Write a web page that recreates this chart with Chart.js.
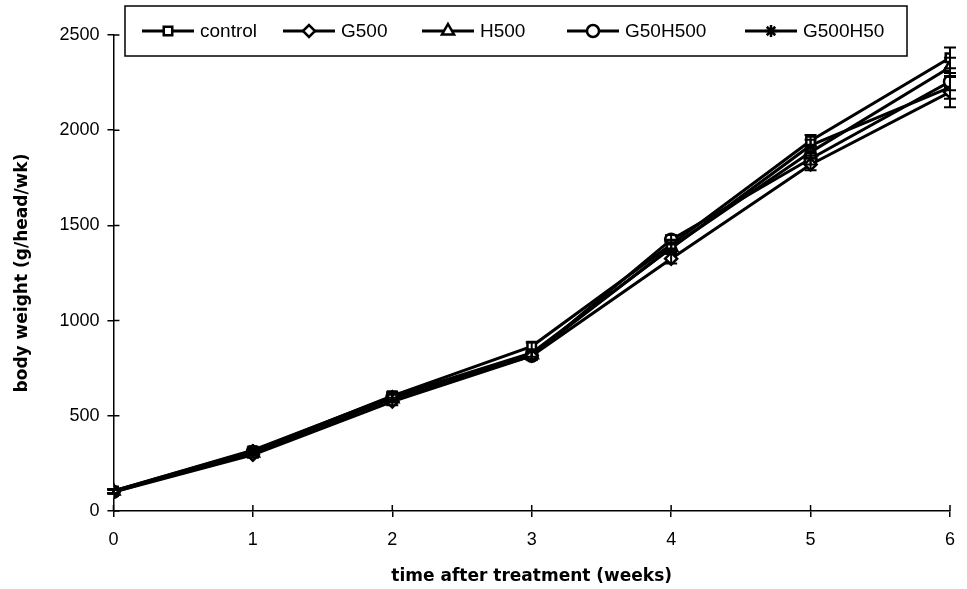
<!DOCTYPE html>
<html>
<head>
<meta charset="utf-8">
<script src="https://cdn.jsdelivr.net/npm/chart.js@4"></script>
<style>
  html, body { margin: 0; padding: 0; background: #fff; }
  #wrap { width: 967px; height: 589px; position: relative; }
</style>
</head>
<body>
<div id="wrap"><canvas id="growth-canvas"></canvas></div>
<script>
// weeks after treatment
const weeks = [0, 1, 2, 3, 4, 5, 6];
const seriesNames = ['control', 'G500', 'H500', 'G50H500', 'G500H50'];
const pointStyles = ['rect', 'rectRot', 'triangle', 'circle', 'star'];

// body weight (g/head/wk)
const control = [105, 315, 605, 865, 1400, 1945, 2380];
const g500 = [100, 295, 575, 815, 1325, 1820, 2200];
const h500 = [105, 305, 590, 820, 1385, 1885, 2330];
const g50h500 = [100, 310, 595, 815, 1425, 1850, 2255];
const g500h50 = [105, 320, 600, 830, 1380, 1920, 2225];

// standard errors
const controlErr = [10, 15, 20, 20, 25, 30, 55];
const g500Err = [10, 15, 20, 20, 25, 30, 80];
const h500Err = [10, 15, 20, 20, 25, 30, 50];
const g50h500Err = [10, 15, 20, 20, 25, 30, 45];
const g500h50Err = [10, 15, 20, 20, 25, 30, 60];

const yTicks = [0, 500, 1000, 1500, 2000, 2500];

const values = [control, g500, h500, g50h500, g500h50];
const errors = [controlErr, g500Err, h500Err, g50h500Err, g500h50Err];

const FONT = '"Liberation Sans", Arial, sans-serif';
const TITLE_FONT = '"DejaVu Sans", "Liberation Sans", sans-serif';

const datasets = seriesNames.map((name, i) => ({
  label: name,
  data: weeks.map((w, j) => ({ x: w, y: values[i][j] })),
  errors: errors[i],
  borderColor: '#000',
  borderWidth: 3,
  pointStyle: pointStyles[i],
  pointRadius: pointStyles[i] === 'triangle' ? 7 : 6,
  pointBorderWidth: 2.5,
  pointBackgroundColor: pointStyles[i] === 'star' ? '#000' : '#fff',
  pointBorderColor: '#000',
  fill: false,
  tension: 0,
}));

// vertical error bars with caps, plus tick halves inside the plot
const errorBars = {
  id: 'errorBars',
  afterDatasetsDraw(chart) {
    const { ctx, scales: { x, y } } = chart;
    ctx.save();
    ctx.strokeStyle = '#000';
    ctx.lineWidth = 1.5;
    ctx.beginPath();
    weeks.forEach((w) => {
      const px = x.getPixelForValue(w);
      ctx.moveTo(px, y.bottom); ctx.lineTo(px, y.bottom - 6);
    });
    yTicks.forEach((v) => {
      const py = y.getPixelForValue(v);
      ctx.moveTo(x.left, py); ctx.lineTo(x.left + 6, py);
    });
    ctx.stroke();

    ctx.lineWidth = 2;
    chart.data.datasets.forEach((ds) => {
      ds.data.forEach((p, j) => {
        const e = ds.errors[j];
        const px = x.getPixelForValue(p.x);
        const top = y.getPixelForValue(p.y + e);
        const bot = y.getPixelForValue(p.y - e);
        ctx.beginPath();
        ctx.moveTo(px, top); ctx.lineTo(px, bot);
        ctx.moveTo(px - 6, top); ctx.lineTo(px + 6, top);
        ctx.moveTo(px - 6, bot); ctx.lineTo(px + 6, bot);
        ctx.stroke();
      });
    });
    ctx.restore();
  },
};

// boxed legend with line through marker, drawn over the plot
const boxLegend = {
  id: 'boxLegend',
  afterDraw(chart) {
    const { ctx } = chart;
    const box = { left: 125, top: 6, right: 907, bottom: 56 };
    const itemX = [142, 283, 422, 567, 745];
    const midY = (box.top + box.bottom) / 2;
    ctx.save();
    ctx.fillStyle = '#fff';
    ctx.fillRect(box.left, box.top, box.right - box.left, box.bottom - box.top);
    ctx.strokeStyle = '#000';
    ctx.lineWidth = 1.5;
    ctx.strokeRect(box.left, box.top, box.right - box.left, box.bottom - box.top);
    chart.data.datasets.forEach((ds, i) => {
      const x0 = itemX[i];
      ctx.strokeStyle = '#000';
      ctx.lineWidth = 3;
      ctx.beginPath();
      ctx.moveTo(x0, midY); ctx.lineTo(x0 + 52, midY);
      ctx.stroke();
      ctx.fillStyle = ds.pointBackgroundColor;
      ctx.strokeStyle = '#000';
      ctx.lineWidth = ds.pointBorderWidth;
      Chart.helpers.drawPoint(ctx, {
        pointStyle: ds.pointStyle,
        radius: ds.pointRadius,
        borderWidth: ds.pointBorderWidth,
        rotation: 0,
      }, x0 + 26, midY);
      ctx.fillStyle = '#000';
      ctx.font = '19px ' + FONT;
      ctx.textBaseline = 'middle';
      ctx.fillText(ds.label, x0 + 58, midY + 1);
    });
    ctx.restore();
  },
};

new Chart(document.getElementById('growth-canvas').getContext('2d'), {
  type: 'line',
  data: { datasets },
  plugins: [errorBars, boxLegend],
  options: {
    responsive: true,
    maintainAspectRatio: false,
    animation: false,
    layout: { padding: { top: 35, right: 13, left: 12, bottom: 2 } },
    plugins: {
      legend: { display: false },
      tooltip: { enabled: false },
    },
    scales: {
      x: {
        type: 'linear',
        min: 0,
        max: 6,
        afterBuildTicks: (scale) => { scale.ticks = weeks.map((v) => ({ value: v })); },
        grid: { drawOnChartArea: false, color: '#000', tickLength: 6, lineWidth: 1.5 },
        border: { color: '#000', width: 1.5 },
        ticks: { color: '#000', font: { family: FONT, size: 18 }, padding: 12, callback: (v) => String(v) },
        title: {
          display: true,
          text: 'time after treatment (weeks)',
          color: '#000',
          font: { family: TITLE_FONT, size: 17, weight: 'bold' },
          padding: { top: 4, bottom: 0 },
        },
      },
      y: {
        min: 0,
        max: 2500,
        afterBuildTicks: (scale) => { scale.ticks = yTicks.map((v) => ({ value: v })); },
        grid: { drawOnChartArea: false, color: '#000', tickLength: 6, lineWidth: 1.5 },
        border: { color: '#000', width: 1.5 },
        ticks: { color: '#000', font: { family: FONT, size: 18 }, padding: 8, callback: (v) => String(v) },
        title: {
          display: true,
          text: 'body weight (g/head/wk)',
          color: '#000',
          font: { family: TITLE_FONT, size: 17, weight: 'bold' },
          padding: { top: 0, bottom: 19 },
        },
      },
    },
  },
});
</script>
</body>
</html>
